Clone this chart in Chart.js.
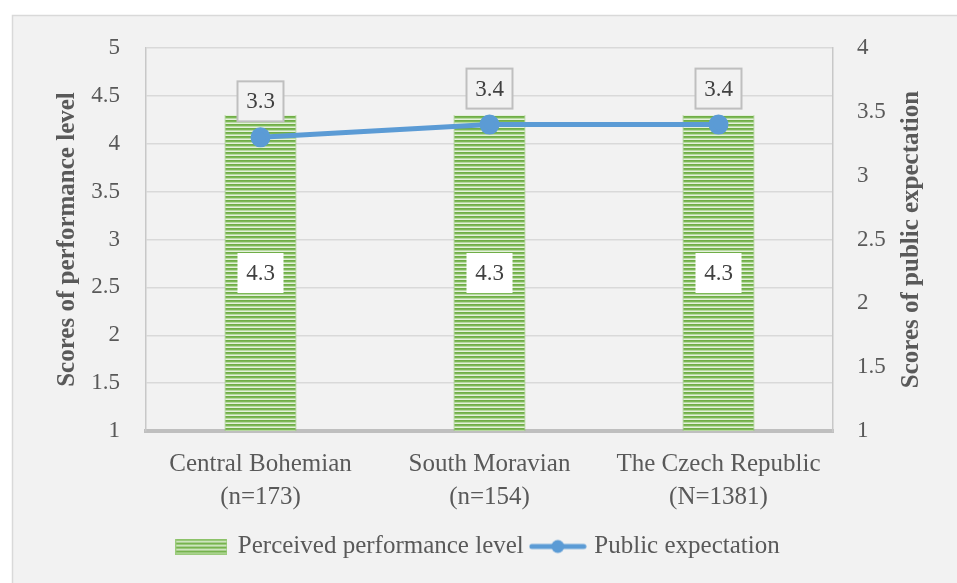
<!DOCTYPE html>
<html>
<head>
<meta charset="utf-8">
<script src="https://cdn.jsdelivr.net/npm/chart.js@4/dist/chart.umd.min.js"></script>
<style>
  html, body { margin: 0; padding: 0; background: #ffffff; }
  #chart { position: absolute; left: 0; top: 0; }
</style>
</head>
<body>
<canvas id="chart" width="957" height="583"></canvas>
<script>

const regions = [["Central Bohemian", "(n=173)"], ["South Moravian", "(n=154)"], ["The Czech Republic", "(N=1381)"]];
const performance = [4.3, 4.3, 4.3];
const expectation = [3.3, 3.4, 3.4];
const leftTicks = [1, 1.5, 2, 2.5, 3, 3.5, 4, 4.5, 5];
const rightTicks = [1, 1.5, 2, 2.5, 3, 3.5, 4];

const serif = "'Palatino Linotype', 'Book Antiqua', Palatino, 'Liberation Serif', serif";
const textColor = "#595959";

// striped green fill like the original
function stripes() {
  const c = document.createElement("canvas");
  c.width = 8; c.height = 4;
  const g = c.getContext("2d");
  const rows = ["#70ad47", "#7db956", "#b7d9a1", "#e4f1db"];
  rows.forEach((col, i) => { g.fillStyle = col; g.fillRect(0, i, 8, 1); });
  return g.createPattern(c, "repeat");
}
const barFill = stripes();

function barSwatch() {
  const c = document.createElement("canvas");
  c.width = 52; c.height = 16;
  const g = c.getContext("2d");
  g.fillStyle = barFill;
  g.fillRect(0, 0, 52, 16);
  g.strokeStyle = "#9bcb7c";
  g.lineWidth = 1;
  g.strokeRect(0.5, 0.5, 51, 15);
  return c;
}

function lineSwatch() {
  const c = document.createElement("canvas");
  c.width = 58; c.height = 16;
  const g = c.getContext("2d");
  g.strokeStyle = "#5b9bd5";
  g.lineWidth = 5;
  g.lineCap = "round";
  g.beginPath(); g.moveTo(3, 8); g.lineTo(55, 8); g.stroke();
  g.fillStyle = "#5b9bd5";
  g.beginPath(); g.arc(29, 8, 6.5, 0, Math.PI * 2); g.fill();
  return c;
}

const frame = {
  id: "frame",
  beforeDraw(chart) {
    const ctx = chart.ctx;
    ctx.save();
    ctx.fillStyle = "#f2f2f2";
    ctx.fillRect(12, 15, 945, 568);
    ctx.strokeStyle = "#d9d9d9";
    ctx.lineWidth = 1.5;
    ctx.strokeRect(12.5, 15.5, 960, 580);
    ctx.restore();
  }
};

const labels = {
  id: "labels",
  afterDatasetsDraw(chart) {
    const ctx = chart.ctx;
    const bottom = chart.chartArea.bottom;
    ctx.save();
    ctx.font = "23px " + serif;
    ctx.textAlign = "center";
    ctx.textBaseline = "middle";
    chart.data.datasets.forEach((ds, i) => {
      const meta = chart.getDatasetMeta(i);
      meta.data.forEach((el, j) => {
        let x = el.x, y;
        if (ds.type === "bar") {
          y = (el.y + Math.min(el.base, bottom)) / 2;
          ctx.fillStyle = "#ffffff";
          ctx.fillRect(x - 23, y - 20, 46, 40);
        } else {
          y = el.y - 36;
          ctx.fillStyle = "#f2f2f2";
          ctx.fillRect(x - 23, y - 20, 46, 40);
          ctx.strokeStyle = "#bfbfbf";
          ctx.lineWidth = 2;
          ctx.strokeRect(x - 23, y - 20, 46, 40);
        }
        ctx.fillStyle = "#404040";
        ctx.fillText(ds.data[j].toFixed(1), x, y + 1);
      });
    });
    ctx.restore();
  },
  afterDraw(chart) {
    // right axis title reads bottom to top, like the left one
    const ctx = chart.ctx;
    const area = chart.chartArea;
    ctx.save();
    ctx.translate(912, (area.top + area.bottom) / 2);
    ctx.rotate(-Math.PI / 2);
    ctx.font = "bold 25px " + serif;
    ctx.fillStyle = textColor;
    ctx.textAlign = "center";
    ctx.textBaseline = "middle";
    ctx.fillText("Scores of public expectation", 0, 0);
    ctx.restore();
  }
};

new Chart(document.getElementById("chart"), {
  data: {
    labels: regions,
    datasets: [
      {
        type: "line",
        label: "Public expectation",
        data: expectation,
        yAxisID: "y1",
        borderColor: "#5b9bd5",
        backgroundColor: "#5b9bd5",
        borderWidth: 5,
        pointRadius: 7.5,
        pointHoverRadius: 7.5,
        order: 0
      },
      {
        type: "bar",
        label: "Perceived performance level",
        data: performance,
        yAxisID: "y",
        backgroundColor: barFill,
        borderColor: "#8cc46a",
        borderWidth: { left: 1, right: 1, top: 0, bottom: 0 },
        borderSkipped: false,
        categoryPercentage: 1,
        barPercentage: 0.314,
        order: 1
      }
    ]
  },
  options: {
    responsive: false,
    animation: false,
    devicePixelRatio: 1,
    layout: { padding: { top: 48, left: 0, right: 0, bottom: 14 } },
    plugins: {
      tooltip: { enabled: false },
      legend: {
        position: "bottom",
        reverse: true,
        labels: {
          usePointStyle: true,
          pointStyleWidth: 48,
          padding: 10,
          color: textColor,
          font: { family: serif, size: 25 },
          generateLabels(chart) {
            const items = Chart.defaults.plugins.legend.labels.generateLabels(chart);
            items.forEach(it => {
              it.pointStyle = chart.data.datasets[it.datasetIndex].type === "bar" ? barSwatch() : lineSwatch();
            });
            return items;
          }
        }
      }
    },
    scales: {
      x: {
        grid: { display: false, drawTicks: false },
        border: { display: true, color: "#bfbfbf", width: 4 },
        ticks: { color: textColor, padding: 17, font: { family: serif, size: 25, lineHeight: 1.32 } },
        afterFit(s) { s.height = 93; }
      },
      y: {
        position: "left",
        min: 1,
        max: 5,
        afterBuildTicks(s) { s.ticks = leftTicks.map(v => ({ value: v })); },
        grid: { color: "#d9d9d9", lineWidth: 1.5, drawTicks: false },
        border: { display: true, color: "#c8c8c8", width: 1.5 },
        ticks: { color: textColor, padding: 26, font: { family: serif, size: 23 }, callback: v => String(v) },
        title: {
          display: true,
          text: "Scores of performance level",
          color: textColor,
          padding: { top: 53, bottom: 0 },
          font: { family: serif, size: 25, weight: "bold" }
        },
        afterFit(s) { s.width = 146; }
      },
      y1: {
        position: "right",
        min: 1,
        max: 4,
        afterBuildTicks(s) { s.ticks = rightTicks.map(v => ({ value: v })); },
        grid: { drawOnChartArea: false, drawTicks: false },
        border: { display: true, color: "#c8c8c8", width: 1.5 },
        ticks: { color: textColor, padding: 24, font: { family: serif, size: 23 }, callback: v => String(v) },
        afterFit(s) { s.width = 124; }
      }
    }
  },
  plugins: [frame, labels]
});
</script>
</body>
</html>
